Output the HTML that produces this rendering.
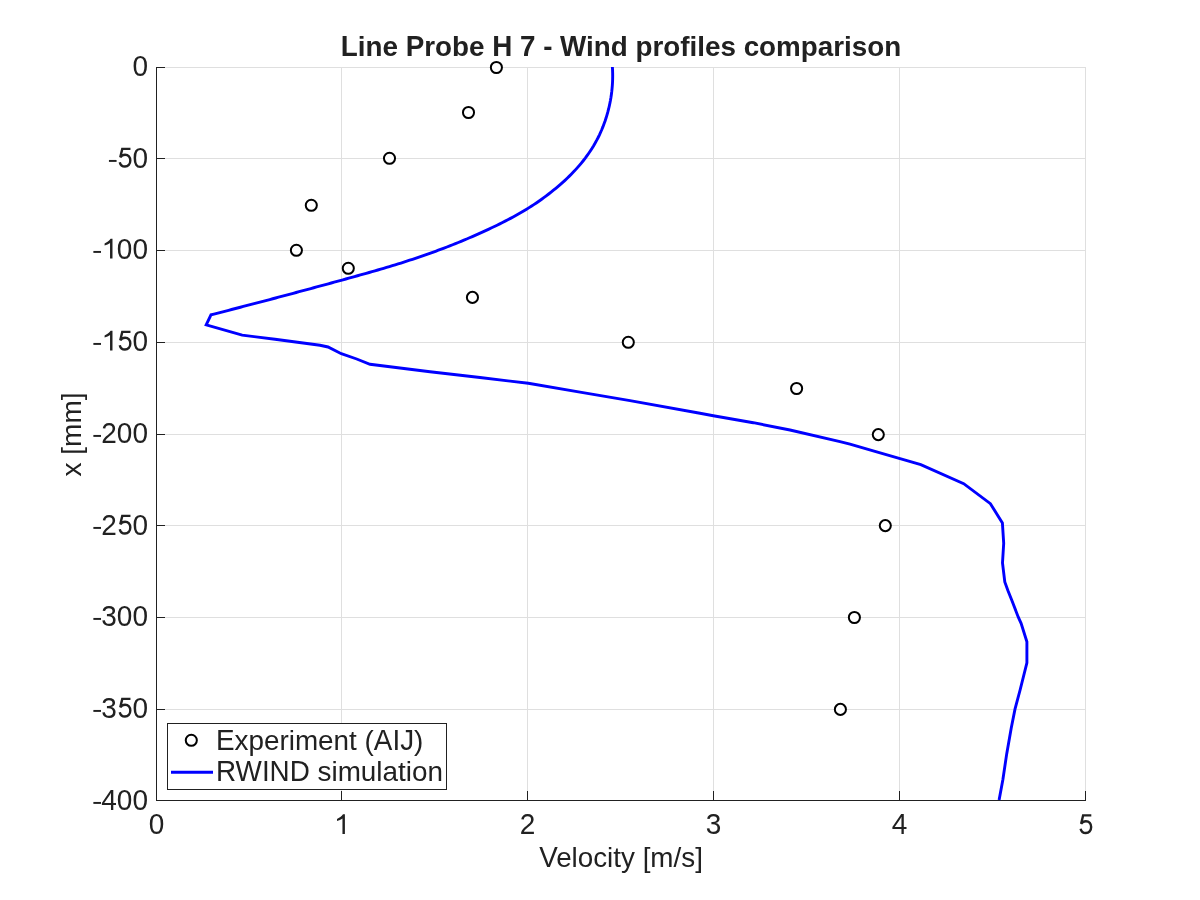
<!DOCTYPE html><html><head><meta charset="utf-8"><style>html,body{margin:0;padding:0;background:#fff;width:1200px;height:900px;overflow:hidden}svg{display:block;will-change:transform}text{font-family:"Liberation Sans",sans-serif}</style></head><body>
<svg width="1200" height="900" viewBox="0 0 1200 900">
<rect width="1200" height="900" fill="#fff"/>
<path d="M341.5 67V800 M527.5 67V800 M713.5 67V800 M899.5 67V800 M1085.5 67V800 M157 67.5H1086 M157 158.5H1086 M157 250.5H1086 M157 342.5H1086 M157 434.5H1086 M157 525.5H1086 M157 617.5H1086 M157 709.5H1086" stroke="#dfdfdf" stroke-width="1" fill="none"/>
<path d="M156.5 67V800.5H1086 M341.5 800V791 M527.5 800V791 M713.5 800V791 M899.5 800V791 M1085.5 800V791 M156 67.5H165 M156 158.5H165 M156 250.5H165 M156 342.5H165 M156 434.5H165 M156 525.5H165 M156 617.5H165 M156 709.5H165" stroke="#212121" stroke-width="1" fill="none" shape-rendering="crispEdges"/>
<path d="M612.39 67.00 L612.56 70.00 L612.65 73.02 L612.68 76.04 L612.64 79.07 L612.53 82.10 L612.35 85.14 L612.11 88.17 L611.80 91.20 L611.42 94.23 L610.98 97.25 L610.47 100.27 L609.89 103.27 L609.25 106.26 L608.55 109.23 L607.78 112.19 L606.94 115.14 L606.05 118.06 L605.09 120.95 L604.06 123.83 L602.98 126.67 L601.83 129.49 L600.62 132.27 L599.35 135.03 L598.02 137.74 L596.62 140.43 L595.17 143.07 L593.66 145.67 L592.09 148.23 L590.46 150.76 L588.78 153.25 L587.05 155.70 L585.27 158.12 L583.43 160.49 L581.55 162.84 L579.63 165.14 L577.65 167.41 L575.64 169.65 L573.58 171.85 L571.49 174.02 L569.35 176.15 L567.18 178.25 L564.98 180.32 L562.74 182.36 L560.47 184.37 L558.16 186.35 L555.83 188.31 L553.47 190.24 L551.09 192.15 L548.68 194.02 L546.25 195.87 L543.80 197.69 L541.33 199.47 L538.84 201.23 L536.33 202.94 L533.81 204.62 L531.28 206.27 L528.72 207.88 L526.16 209.46 L523.58 211.01 L520.99 212.54 L518.38 214.03 L515.76 215.50 L513.13 216.95 L510.48 218.37 L507.83 219.77 L505.16 221.15 L502.48 222.51 L499.79 223.86 L497.08 225.19 L494.37 226.50 L491.65 227.81 L488.91 229.09 L486.17 230.37 L483.42 231.64 L480.66 232.89 L477.89 234.13 L475.11 235.36 L472.33 236.58 L469.53 237.79 L466.73 238.98 L463.92 240.16 L461.11 241.33 L458.29 242.48 L455.46 243.63 L452.63 244.76 L449.79 245.88 L446.94 246.99 L444.10 248.08 L441.24 249.16 L438.39 250.23 L435.52 251.29 L432.66 252.34 L429.79 253.37 L426.92 254.39 L424.05 255.39 L421.17 256.39 L418.29 257.37 L415.42 258.34 L412.53 259.30 L409.65 260.24 L406.77 261.17 L403.88 262.10 L400.99 263.01 L398.10 263.91 L395.21 264.81 L392.32 265.69 L389.43 266.57 L386.53 267.44 L383.63 268.30 L380.73 269.15 L377.83 270.00 L374.93 270.84 L372.03 271.67 L369.13 272.50 L366.22 273.33 L363.31 274.15 L360.41 274.96 L357.50 275.77 L354.59 276.58 L351.67 277.39 L348.76 278.19 L345.85 279.00 L342.93 279.80 L340.01 280.60 L337.10 281.40 L334.18 282.19 L331.26 282.99 L328.34 283.79 L325.42 284.59 L322.49 285.38 L319.57 286.18 L316.65 286.97 L313.72 287.76 L310.80 288.56 L307.87 289.35 L304.94 290.14 L302.01 290.93 L299.08 291.71 L296.15 292.50 L293.22 293.29 L290.29 294.07 L287.36 294.86 L284.43 295.64 L281.50 296.42 L278.56 297.20 L275.63 297.98 L272.69 298.76 L269.76 299.54 L266.82 300.31 L263.89 301.09 L260.95 301.86 L258.01 302.63 L255.08 303.40 L252.14 304.17 L249.20 304.94 L246.26 305.71 L243.33 306.47 L240.39 307.24 L237.45 308.00 L234.51 308.76 L231.57 309.52 L228.63 310.28 L225.69 311.04 L222.76 311.79 L219.82 312.55 L216.88 313.30 L213.94 314.05 L211.00 314.80 L206.2 324.8 L242.2 335.1 L275 339.3 L320 345.3 L328 347 L341.3 353.7 L356.7 359 L370 364.3 L430 371.7 L480 377.5 L528.3 383.3 L580 392.1 L630 400.6 L700 413.3 L713.3 415.7 L753.3 422.7 L790 430 L840 441.7 L850 444.2 L875.8 451.7 L899.2 458.3 L920.8 464.6 L963.7 483.7 L990.4 503.7 L1002.4 522.9 L1003.7 543.3 L1002.5 562.9 L1004.8 582 L1007.9 590.5 L1011.7 600 L1018.3 617.2 L1021.1 623.3 L1026.9 641.7 L1026.9 662.8 L1020.1 690 L1015 709.2 L1011.2 728.3 L1006.7 753.9 L1002.9 779.4 L999.1 800" stroke="#0000ff" stroke-width="2.9" fill="none" stroke-linejoin="miter"/>
<circle cx="496.4" cy="67.5" r="5.55" stroke="#000" stroke-width="2" fill="#fff"/>
<circle cx="468.5" cy="112.5" r="5.55" stroke="#000" stroke-width="2" fill="#fff"/>
<circle cx="389.5" cy="158.3" r="5.55" stroke="#000" stroke-width="2" fill="#fff"/>
<circle cx="311.3" cy="205.3" r="5.55" stroke="#000" stroke-width="2" fill="#fff"/>
<circle cx="296.4" cy="250.3" r="5.55" stroke="#000" stroke-width="2" fill="#fff"/>
<circle cx="348.3" cy="268.3" r="5.55" stroke="#000" stroke-width="2" fill="#fff"/>
<circle cx="472.45" cy="297.4" r="5.55" stroke="#000" stroke-width="2" fill="#fff"/>
<circle cx="628.3" cy="342.3" r="5.55" stroke="#000" stroke-width="2" fill="#fff"/>
<circle cx="796.6" cy="388.5" r="5.55" stroke="#000" stroke-width="2" fill="#fff"/>
<circle cx="878.3" cy="434.6" r="5.55" stroke="#000" stroke-width="2" fill="#fff"/>
<circle cx="885.3" cy="525.6" r="5.55" stroke="#000" stroke-width="2" fill="#fff"/>
<circle cx="854.4" cy="617.5" r="5.55" stroke="#000" stroke-width="2" fill="#fff"/>
<circle cx="840.4" cy="709.4" r="5.55" stroke="#000" stroke-width="2" fill="#fff"/>
<text transform="translate(132.43,75.5) scale(1,1.04)" font-size="28" fill="#212121">0</text>
<path transform="translate(107.54,167.5)" d="M1.4 -7.55H9.05V-5.6H1.4Z" fill="#212121"/><path transform="translate(116.86,167.5)" d="M13.6 -18.6H5.4L3.4 -10.2C4.6 -12.0 6.4 -12.8 8.2 -12.8C11.4 -12.8 13.45 -10.4 13.45 -6.9C13.45 -3.2 11.2 -1.0 8.1 -1.0C5.5 -1.0 3.5 -2.6 2.9 -5.3" fill="none" stroke="#212121" stroke-width="2.4"/><text transform="translate(132.43,167.5) scale(1,1.04)" font-size="28" fill="#212121">0</text>
<path transform="translate(91.97,258.5)" d="M1.4 -7.55H9.05V-5.6H1.4Z" fill="#212121"/><path transform="translate(101.29,258.5)" d="M11.2 -19.8L11.2 0L8.75 0L8.75 -15.4C7.4 -14.3 5.2 -13.4 3.3 -12.9L3.3 -15.0C5.6 -16.1 7.9 -17.8 9.3 -19.8Z" fill="#212121"/><text transform="translate(116.86,258.5) scale(1,1.04)" font-size="28" fill="#212121">00</text>
<path transform="translate(91.97,350.5)" d="M1.4 -7.55H9.05V-5.6H1.4Z" fill="#212121"/><path transform="translate(101.29,350.5)" d="M11.2 -19.8L11.2 0L8.75 0L8.75 -15.4C7.4 -14.3 5.2 -13.4 3.3 -12.9L3.3 -15.0C5.6 -16.1 7.9 -17.8 9.3 -19.8Z" fill="#212121"/><path transform="translate(116.86,350.5)" d="M13.6 -18.6H5.4L3.4 -10.2C4.6 -12.0 6.4 -12.8 8.2 -12.8C11.4 -12.8 13.45 -10.4 13.45 -6.9C13.45 -3.2 11.2 -1.0 8.1 -1.0C5.5 -1.0 3.5 -2.6 2.9 -5.3" fill="none" stroke="#212121" stroke-width="2.4"/><text transform="translate(132.43,350.5) scale(1,1.04)" font-size="28" fill="#212121">0</text>
<path transform="translate(91.97,442.5)" d="M1.4 -7.55H9.05V-5.6H1.4Z" fill="#212121"/><text transform="translate(101.29,442.5) scale(1,1.04)" font-size="28" fill="#212121">200</text>
<path transform="translate(91.97,534.5)" d="M1.4 -7.55H9.05V-5.6H1.4Z" fill="#212121"/><text transform="translate(101.29,534.5) scale(1,1.04)" font-size="28" fill="#212121">2</text><path transform="translate(116.86,534.5)" d="M13.6 -18.6H5.4L3.4 -10.2C4.6 -12.0 6.4 -12.8 8.2 -12.8C11.4 -12.8 13.45 -10.4 13.45 -6.9C13.45 -3.2 11.2 -1.0 8.1 -1.0C5.5 -1.0 3.5 -2.6 2.9 -5.3" fill="none" stroke="#212121" stroke-width="2.4"/><text transform="translate(132.43,534.5) scale(1,1.04)" font-size="28" fill="#212121">0</text>
<path transform="translate(91.97,625.5)" d="M1.4 -7.55H9.05V-5.6H1.4Z" fill="#212121"/><text transform="translate(101.29,625.5) scale(1,1.04)" font-size="28" fill="#212121">300</text>
<path transform="translate(91.97,717.5)" d="M1.4 -7.55H9.05V-5.6H1.4Z" fill="#212121"/><text transform="translate(101.29,717.5) scale(1,1.04)" font-size="28" fill="#212121">3</text><path transform="translate(116.86,717.5)" d="M13.6 -18.6H5.4L3.4 -10.2C4.6 -12.0 6.4 -12.8 8.2 -12.8C11.4 -12.8 13.45 -10.4 13.45 -6.9C13.45 -3.2 11.2 -1.0 8.1 -1.0C5.5 -1.0 3.5 -2.6 2.9 -5.3" fill="none" stroke="#212121" stroke-width="2.4"/><text transform="translate(132.43,717.5) scale(1,1.04)" font-size="28" fill="#212121">0</text>
<path transform="translate(91.97,809.5)" d="M1.4 -7.55H9.05V-5.6H1.4Z" fill="#212121"/><text transform="translate(101.29,809.5) scale(1,1.04)" font-size="28" fill="#212121">400</text>
<text transform="translate(148.72,834) scale(1,1.04)" font-size="28" fill="#212121">0</text>
<path transform="translate(333.71,834)" d="M11.2 -19.8L11.2 0L8.75 0L8.75 -15.4C7.4 -14.3 5.2 -13.4 3.3 -12.9L3.3 -15.0C5.6 -16.1 7.9 -17.8 9.3 -19.8Z" fill="#212121"/>
<text transform="translate(519.72,834) scale(1,1.04)" font-size="28" fill="#212121">2</text>
<text transform="translate(705.72,834) scale(1,1.04)" font-size="28" fill="#212121">3</text>
<text transform="translate(891.72,834) scale(1,1.04)" font-size="28" fill="#212121">4</text>
<path transform="translate(1077.71,834)" d="M13.6 -18.6H5.4L3.4 -10.2C4.6 -12.0 6.4 -12.8 8.2 -12.8C11.4 -12.8 13.45 -10.4 13.45 -6.9C13.45 -3.2 11.2 -1.0 8.1 -1.0C5.5 -1.0 3.5 -2.6 2.9 -5.3" fill="none" stroke="#212121" stroke-width="2.4"/>
<text transform="translate(539.125,867) scale(1,1.04)" font-size="27.8" fill="#212121" xml:space="preserve">V</text><text transform="translate(556.125,867)" font-size="27.8" fill="#212121" xml:space="preserve">elocity [m/s]</text>
<text transform="translate(81,434.5) rotate(-90)" font-size="28" text-anchor="middle" fill="#212121">x [mm]</text>
<text transform="translate(340.805,56) scale(1,1.04)" font-size="27.8" font-weight="bold" fill="#212121" xml:space="preserve">L</text><text transform="translate(357.773,56)" font-size="27.8" font-weight="bold" fill="#212121" xml:space="preserve">ine </text><text transform="translate(405.664,56) scale(1,1.04)" font-size="27.8" font-weight="bold" fill="#212121" xml:space="preserve">P</text><text transform="translate(424.195,56)" font-size="27.8" font-weight="bold" fill="#212121" xml:space="preserve">robe </text><text transform="translate(492.164,56) scale(1,1.04)" font-size="27.8" font-weight="bold" fill="#212121" xml:space="preserve">H</text><text transform="translate(512.227,56)" font-size="27.8" font-weight="bold" fill="#212121" xml:space="preserve"> </text><text transform="translate(519.961,56) scale(1,1.04)" font-size="27.8" font-weight="bold" fill="#212121" xml:space="preserve">7</text><text transform="translate(535.414,56)" font-size="27.8" font-weight="bold" fill="#212121" xml:space="preserve"> - </text><text transform="translate(560.117,56) scale(1,1.04)" font-size="27.8" font-weight="bold" fill="#212121" xml:space="preserve">W</text><text transform="translate(586.117,56)" font-size="27.8" font-weight="bold" fill="#212121" xml:space="preserve">ind profiles comparison</text>
<rect x="167.5" y="723.5" width="279" height="66" fill="#fff" stroke="#212121" stroke-width="1"/>
<circle cx="191.3" cy="740.3" r="5.55" stroke="#000" stroke-width="2" fill="#fff"/>
<path d="M171 772.3H213" stroke="#0000ff" stroke-width="2.9"/>
<text transform="translate(216.000,749.7) scale(1,1.04)" font-size="27.85" fill="#212121" xml:space="preserve">E</text><text transform="translate(234.562,749.7)" font-size="27.85" fill="#212121" xml:space="preserve">xperiment (</text><text transform="translate(373.828,749.7) scale(1,1.04)" font-size="27.85" fill="#212121" xml:space="preserve">AIJ</text><text transform="translate(414.047,749.7)" font-size="27.85" fill="#212121" xml:space="preserve">)</text>
<text transform="translate(216.000,780.8) scale(1,1.04)" font-size="27.85" fill="#212121" xml:space="preserve">RWIND</text><text transform="translate(309.828,780.8)" font-size="27.85" fill="#212121" xml:space="preserve"> simulation</text>
</svg></body></html>
